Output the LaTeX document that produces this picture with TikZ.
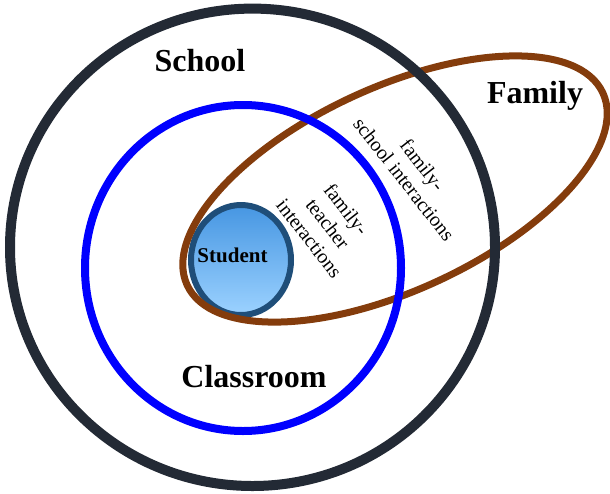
\documentclass[tikz,border=0pt]{standalone}
\usepackage{fontspec}
\setmainfont{Liberation Serif}
\definecolor{schoolcol}{HTML}{232A35}
\definecolor{classcol}{HTML}{0000FF}
\definecolor{familycol}{HTML}{843C0C}
\definecolor{studentrim}{HTML}{1F4E79}
\definecolor{studenttop}{HTML}{4696E2}
\definecolor{studentbot}{HTML}{9CD2FF}
\tikzset{
  ring/.style={line width=#1},
  biglabel/.style={font=\fontsize{32}{38}\selectfont\bfseries, anchor=base, inner sep=0pt},
  linklabel/.style={font=\fontsize{20}{23.5}\selectfont, align=center, rotate=-52, inner sep=0pt}
}
\begin{document}
\begin{tikzpicture}[x=1pt, y=-1pt]
  \useasboundingbox (0,0) rectangle (610,493);
  % Student
  \draw[ring=6pt, studentrim, top color=studenttop, bottom color=studentbot]
    (241,260) ellipse [x radius=50, y radius=55];
  % Family
  \draw[ring=7pt, familycol, rotate around={24.8:(395,189)}]
    (395,189) ellipse [x radius=229, y radius=101.5];
  % Classroom
  \draw[ring=8pt, classcol] (243,268) ellipse [x radius=158, y radius=163];
  % School
  \draw[ring=10pt, schoolcol] (252.5,247.3) ellipse [x radius=242.5, y radius=238.7];

  \node[biglabel] (school) at (200,71) {School};
  \node[biglabel] (family) at (535,103) {Family};
  \node[biglabel] (classroom) at (254,387) {Classroom};
  \node[font=\fontsize{21}{25}\selectfont\bfseries, anchor=base, inner sep=0pt]
    (student) at (232.5,262) {Student};
  \node[linklabel] (fsi) at (413.5,172) {family-\\school interactions};
  \node[linklabel] (fti) at (328,224) {family-\\teacher\\interactions};
\end{tikzpicture}
\end{document}
